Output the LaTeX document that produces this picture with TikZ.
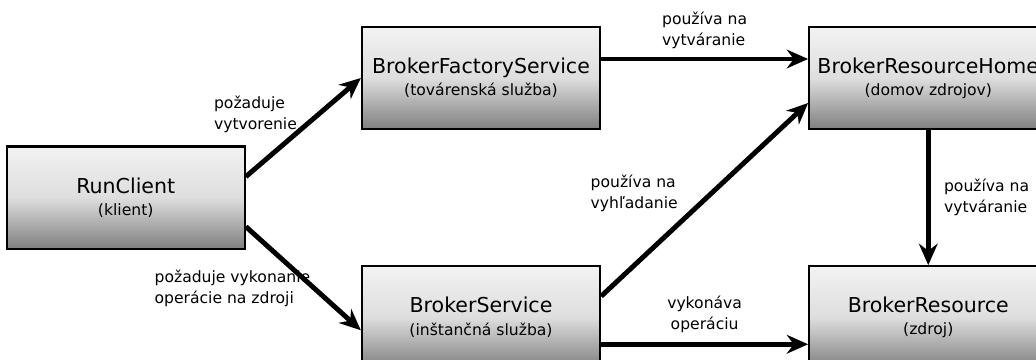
\documentclass[tikz,border=0pt]{standalone}
\usepackage{fontspec}
\setmainfont{DejaVu Sans}
\usepackage{tikz}
\usetikzlibrary{positioning, arrows.meta, calc}

\newcommand{\boxname}[1]{{\fontsize{15.4}{19}\selectfont #1}}

\begin{document}
\begin{tikzpicture}[
	  font=\fontsize{11.7}{15.75}\selectfont,
	  node distance=101.25pt and 155.25pt,
	  box/.style={
	    draw,
	    line width=1.7pt,
	    align=center,
	    minimum width=178.5pt,
	    minimum height=76.5pt,
	    inner sep=0pt,
	    top color=black!5,
	    bottom color=black!50,
	    middle color=black!13
	  },
	  annot/.style={align=left, inner sep=0pt},
	  arrow/.style={-{Stealth[length=16pt,width=14pt]}, line width=3.7pt}
	]

	\useasboundingbox (0,0) rectangle (777pt,-270pt);
	\clip (0,0) rectangle (777pt,-270pt);

	% --- Row 1 (top) ---
	\node[box] (factory) at (360.75pt,-58.5pt) {\boxname{BrokerFactoryService}\\[1pt](továrenská služba)};
	\node[box, right=of factory] (home) {\boxname{BrokerResourceHome}\\[1pt](domov zdrojov)};

	% --- Row 2 (bottom) ---
	\node[box, below=of factory] (service) {\boxname{BrokerService}\\[1pt](inštančná služba)};
	\node[box, below=of home] (resource) {\boxname{BrokerResource}\\[1pt](zdroj)};

	% --- Client (left, between rows) ---
	\node[box, anchor=east, xshift=-86.25pt] (client) at ($(factory.west)!0.5!(service.west)$) {\boxname{RunClient}\\[1pt](klient)};

	% --- Flows ---
	\draw[arrow] ([yshift=15.75pt]client.east) -- node[pos=0.5, above left, annot, xshift=-3pt, yshift=-6pt]{požaduje\\vytvorenie} (factory.west);
	\draw[arrow] ([yshift=-21.75pt]client.east) -- node[pos=0.5, anchor=east, annot, xshift=7pt, yshift=-7.5pt]{požaduje vykonanie\\operácie na zdroji} ([yshift=-9.75pt]service.west);
	\draw[arrow] ([yshift=14.25pt]factory.east) -- node[above=6pt, annot]{používa na\\vytváranie} ([yshift=14.25pt]home.west);
	\draw[arrow] ([yshift=15.75pt]service.east) -- node[pos=0.53, left=23pt, annot]{používa na\\vyhľadanie} ([yshift=-18.75pt]home.west);
	\draw[arrow] ([yshift=-20.25pt]service.east) -- node[above=7pt, annot, align=center]{vykonáva\\operáciu} ([yshift=-20.25pt]resource.west);
	\draw[arrow] (home) -- node[right=10pt, annot]{používa na\\vytváranie} (resource);

\end{tikzpicture}
\end{document}
